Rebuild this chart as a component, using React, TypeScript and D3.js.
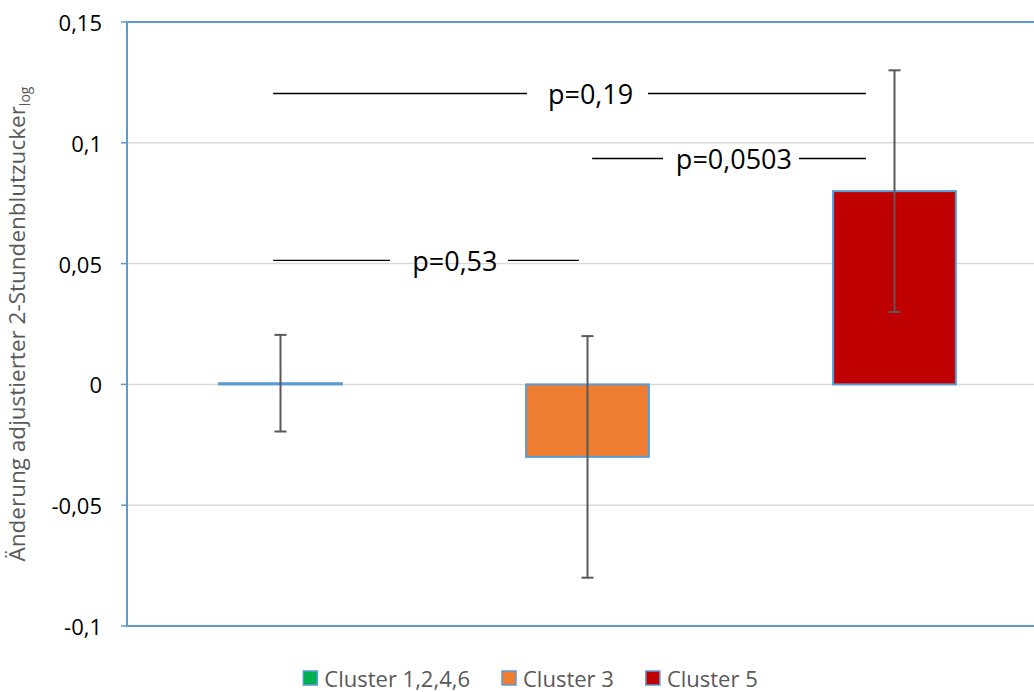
import React, { useEffect, useRef } from "react";
import * as d3 from "d3";

const categories = ["Cluster 1,2,4,6", "Cluster 3", "Cluster 5"];
const values = [0.0005, -0.03, 0.08];
const errors = [0.02, 0.05, 0.05];
const colors = ["#00B050", "#ED7D31", "#C00000"];
const yTicks = [-0.1, -0.05, 0, 0.05, 0.1, 0.15];
const yTickLabels = ["-0,1", "-0,05", "0", "0,05", "0,1", "0,15"];
const pLabels = ["p=0,19", "p=0,0503", "p=0,53"];
const pLevels = [0.1204, 0.0935, 0.0513];
const pTextPos = [1.01, 1.477, 0.568];
const pSegments = [
  [[-0.024, 0.803], [1.197, 1.907]],
  [[1.015, 1.246], [1.689, 1.907]],
  [[-0.024, 0.357], [0.741, 0.972]],
];

const W = 1034, H = 692;
const FONT = "'Open Sans', sans-serif";

export default function App() {
  const ref = useRef<SVGSVGElement>(null);
  useEffect(() => {
    const svg = d3.select(ref.current);
    svg.selectAll("*").remove();
    const left = 127, right = 1048, top = 22, bottom = 626;
    const y = d3.scaleLinear().domain([-0.1, 0.15]).range([bottom, top]);
    const x = d3.scaleBand().domain(categories).range([left, right]).paddingInner(0.6).paddingOuter(0.3);
    const xi = d3.scaleLinear().domain([-0.5, 2.5]).range([left, right]);

    // gridlines
    svg.append("g").selectAll("line").data(yTicks.filter(t => t > -0.1 && t < 0.15)).join("line")
      .attr("x1", left).attr("x2", right).attr("y1", d => y(d)).attr("y2", d => y(d))
      .attr("stroke", "#D9D9D9").attr("stroke-width", 1.5);

    // plot border
    svg.append("rect").attr("x", left).attr("y", top).attr("width", right - left).attr("height", bottom - top)
      .attr("fill", "none").attr("stroke", "#5B9BD5").attr("stroke-width", 2);

    // ticks
    svg.append("g").selectAll("line").data(yTicks).join("line")
      .attr("x1", left - 6).attr("x2", left).attr("y1", d => y(d)).attr("y2", d => y(d))
      .attr("stroke", "#5B9BD5").attr("stroke-width", 1.5);
    svg.append("g").selectAll("text").data(yTicks).join("text")
      .attr("x", 102).attr("y", d => y(d)).attr("text-anchor", "end").attr("dominant-baseline", "central")
      .attr("font-family", FONT).attr("font-size", 22).attr("fill", "#000")
      .text((d, i) => yTickLabels[i]);

    // bars
    svg.append("g").selectAll("rect").data(values).join("rect")
      .attr("x", (d, i) => x(categories[i])!).attr("width", x.bandwidth())
      .attr("y", d => y(Math.max(0, d))).attr("height", d => Math.abs(y(d) - y(0)))
      .attr("fill", (d, i) => colors[i]).attr("stroke", "#5B9BD5").attr("stroke-width", 2);

    // error bars
    const eg = svg.append("g").attr("stroke", "#595959").attr("stroke-width", 2);
    values.forEach((v, i) => {
      const cx = x(categories[i])! + x.bandwidth() / 2;
      const hi = y(v + errors[i]), lo = y(v - errors[i]);
      eg.append("line").attr("x1", cx).attr("x2", cx).attr("y1", hi).attr("y2", lo);
      eg.append("line").attr("x1", cx - 6).attr("x2", cx + 6).attr("y1", hi).attr("y2", hi);
      eg.append("line").attr("x1", cx - 6).attr("x2", cx + 6).attr("y1", lo).attr("y2", lo);
    });

    // annotations
    pLabels.forEach((lab, i) => {
      const yy = y(pLevels[i]);
      pSegments[i].forEach(s => {
        svg.append("line").attr("x1", xi(s[0])).attr("x2", xi(s[1])).attr("y1", yy).attr("y2", yy)
          .attr("stroke", "#000").attr("stroke-width", 1.3);
      });
      svg.append("text").attr("x", xi(pTextPos[i])).attr("y", yy).attr("text-anchor", "middle")
        .attr("dominant-baseline", "central").attr("font-family", FONT).attr("font-size", 27)
        .attr("fill", "#000").text(lab);
    });

    // y label
    const yl = svg.append("text").attr("transform", `translate(25,${(top + bottom) / 2}) rotate(-90)`)
      .attr("text-anchor", "middle").attr("font-family", FONT).attr("font-size", 22.5).attr("fill", "#595959");
    yl.append("tspan").text("Änderung adjustierter 2-Stundenblutzucker");
    yl.append("tspan").attr("font-size", 14).attr("dy", 5).text("log");

    // legend
    const lg = svg.append("g");
    let cx = 0;
    const items: { x: number; w: number }[] = [];
    categories.forEach((c, i) => {
      const t = lg.append("text").attr("x", cx + 21).attr("y", 678).attr("dominant-baseline", "central")
        .attr("font-family", FONT).attr("font-size", 22).attr("fill", "#595959").text(c);
      const w = (t.node() as SVGTextElement).getComputedTextLength();
      lg.append("rect").attr("x", cx).attr("y", 671).attr("width", 14).attr("height", 14)
        .attr("fill", colors[i]).attr("stroke", "#5B9BD5").attr("stroke-width", 1.5);
      items.push({ x: cx, w });
      cx += 21 + w + 32;
    });
    lg.attr("transform", `translate(${502 - items[1].x},0)`);
  }, []);
  return (
    <svg ref={ref} width={W} height={H} style={{ position: "absolute", left: 0, top: 0, background: "#fff" }} />
  );
}
